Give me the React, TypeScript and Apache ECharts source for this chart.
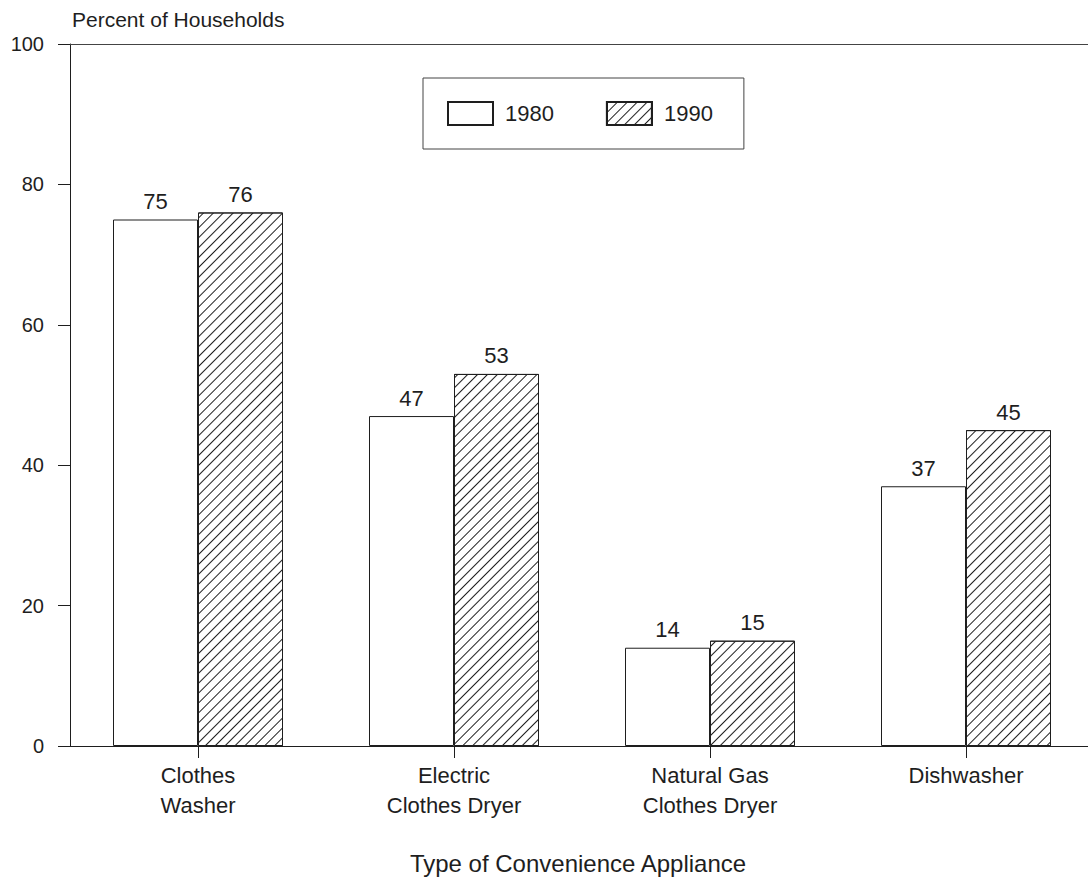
import React, { useEffect, useRef } from "react";
import * as echarts from "echarts";

const categories = ["Clothes\nWasher", "Electric\nClothes Dryer", "Natural Gas\nClothes Dryer", "Dishwasher"];
const values1980 = [75, 47, 14, 37];
const values1990 = [76, 53, 15, 45];
const seriesNames = ["1980", "1990"];
const yTicks = { min: 0, max: 100, interval: 20 };

const FONT = "'Liberation Sans', Arial, Helvetica, sans-serif";
const INK = "#1e1e1e";

export default function App() {
  const ref = useRef<HTMLDivElement>(null);
  useEffect(() => {
    if (!ref.current) return;
    const chart = echarts.init(ref.current, null, { renderer: "svg" });
    const hatch = {
      symbol: "rect",
      symbolSize: 1,
      dashArrayX: [1, 0],
      dashArrayY: [1, 6],
      rotation: -Math.PI / 4,
      color: INK,
      backgroundColor: "#ffffff",
    };
    chart.setOption({
      animation: false,
      backgroundColor: "#ffffff",
      textStyle: { fontFamily: FONT, color: INK },
      legend: {
        left: 423,
        top: 78,
        padding: [23, 31, 23, 24],
        borderColor: "#444",
        borderWidth: 1,
        itemWidth: 45,
        itemHeight: 23,
        itemGap: 52,
        icon: "rect",
        textStyle: { fontSize: 22, color: INK, fontFamily: FONT, padding: [0, 0, 0, 7] },
        data: seriesNames,
      },
      grid: { left: 70, top: 44, width: 1024, height: 702, outerBoundsMode: "none", containLabel: false },
      xAxis: [
        {
          type: "category",
          data: categories,
          axisLine: { show: true, lineStyle: { color: INK, width: 1 } },
          axisTick: { show: true, alignWithLabel: true, length: 12, lineStyle: { color: INK } },
          axisLabel: { fontSize: 22, color: INK, fontFamily: FONT, lineHeight: 30, margin: 14 },
          name: "Type of Convenience Appliance",
          nameLocation: "middle",
          nameGap: 105,
          nameTextStyle: { fontSize: 24, color: INK, fontFamily: FONT, padding: [0, 8, 0, 0] },
        },
        {
          type: "category",
          position: "top",
          data: categories,
          axisLine: { show: true, lineStyle: { color: "#444", width: 1 } },
          axisTick: { show: false },
          axisLabel: { show: false },
        },
      ],
      yAxis: {
        type: "value",
        min: yTicks.min,
        max: yTicks.max,
        interval: yTicks.interval,
        name: "Percent of Households",
        nameLocation: "end",
        nameGap: 14,
        nameTextStyle: { fontSize: 21, color: INK, fontFamily: FONT, align: "left", padding: [0, 0, 0, 2] },
        axisLine: { show: true, lineStyle: { color: INK, width: 1 } },
        axisTick: { show: true, length: 12, lineStyle: { color: INK } },
        axisLabel: { fontSize: 20, color: INK, fontFamily: FONT, margin: 26 },
        splitLine: { show: false },
      },
      series: [
        {
          name: seriesNames[0],
          type: "bar",
          data: values1980,
          barWidth: 85,
          barGap: "0%",
          itemStyle: { color: "#ffffff", borderColor: INK, borderWidth: 1 },
          label: { show: true, position: "top", distance: 7, fontSize: 22, color: INK, fontFamily: FONT },
        },
        {
          name: seriesNames[1],
          type: "bar",
          data: values1990,
          barWidth: 85,
          barGap: "0%",
          itemStyle: { color: "#ffffff", borderColor: INK, borderWidth: 1, decal: hatch },
          label: { show: true, position: "top", distance: 7, fontSize: 22, color: INK, fontFamily: FONT },
        },
      ],
    });
    return () => chart.dispose();
  }, []);
  return <div ref={ref} style={{ position: "fixed", left: 0, top: 0, width: 1088, height: 880 }} />;
}
